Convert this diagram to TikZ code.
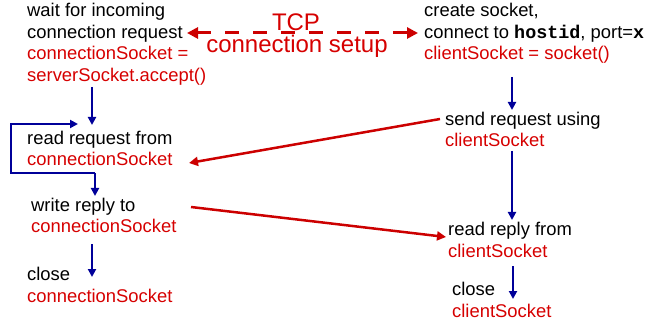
\documentclass[tikz,border=0pt]{standalone}
\usepackage{fontspec}
\setmainfont{Liberation Sans}
\setmonofont{Liberation Mono}
\usetikzlibrary{arrows.meta}
\definecolor{tred}{RGB}{214,0,0}
\definecolor{ared}{RGB}{204,0,0}
\definecolor{tblue}{RGB}{0,0,153}
\begin{document}
\begin{tikzpicture}[x=1pt,y=-1pt,
  txt/.style={anchor=base west,inner sep=0pt,align=left,font=\fontsize{18.4}{21.5}\selectfont},
  big/.style={inner sep=0pt,text=tred,font=\fontsize{24}{26}\selectfont},
  flow/.style={draw=tblue,line width=2.5pt,-{Triangle[length=8pt,width=8pt]}},
  msg/.style={draw=ared,line width=2.5pt,-{Triangle[length=9pt,width=9pt]}},
  setup/.style={draw=ared,line width=3pt,dash pattern=on 14pt off 14pt,{Triangle[length=11pt,width=11pt]}-{Triangle[length=11pt,width=11pt]}}]
\useasboundingbox (0,0) rectangle (647,320);
\newcommand{\rs}[1]{\textcolor{tred}{#1}}
% server side (anchor = baseline of last line)
\node[txt] (wait) at (27,81.5) {wait for incoming\\connection request\\\rs{connectionSocket =}\\\rs{serverSocket.accept()}};
\node[txt] (readreq) at (27,166) {read request from\\\rs{connectionSocket}};
\node[txt] (write) at (31,233) {write reply to\\\rs{connectionSocket}};
\node[txt] (sclose) at (27,302) {close\\\rs{connectionSocket}};
% client side
\node[txt] (create) at (424,60) {create socket,\\connect to \textbf{\texttt{hostid}}, port=\textbf{\texttt{x}}\\\rs{clientSocket = socket()}};
\node[txt] (send) at (445,147) {send request using\\\rs{clientSocket}};
\node[txt] (readrep) at (448,257.5) {read reply from\\\rs{clientSocket}};
\node[txt] (cclose) at (452,317) {close\\\rs{clientSocket}};
% TCP label
\node[big] (tcp) at (296,22) {TCP};
\node[big] (setuplbl) at (297,46) {connection setup};
% coordinates
\coordinate (a1) at (92,87); \coordinate (a2) at (92,125);
\coordinate (b1) at (95,173); \coordinate (b2) at (95,196);
\coordinate (l1) at (11,173); \coordinate (l2) at (11,124); \coordinate (l3) at (78,124);
\coordinate (c1) at (92,244); \coordinate (c2) at (92,277);
\coordinate (d1) at (512,77); \coordinate (d2) at (512,110);
\coordinate (e1) at (512,151); \coordinate (e2) at (512,220);
\coordinate (f1) at (513,266); \coordinate (f2) at (513,299);
\coordinate (s1) at (187,33); \coordinate (s2) at (418,33);
\coordinate (r1) at (440,119); \coordinate (r2) at (189,163);
\coordinate (w1) at (191,207); \coordinate (w2) at (446,237);
% connectors
\draw[setup] (s1) -- (s2);
\draw[flow] (a1) -- (a2);
\draw[flow] (b1) -- (b2);
\draw[flow] (b1) -- (l1) -- (l2) -- (l3);
\draw[flow] (c1) -- (c2);
\draw[flow] (d1) -- (d2);
\draw[flow] (e1) -- (e2);
\draw[flow] (f1) -- (f2);
\draw[msg] (r1) -- (r2);
\draw[msg] (w1) -- (w2);
\end{tikzpicture}
\end{document}
